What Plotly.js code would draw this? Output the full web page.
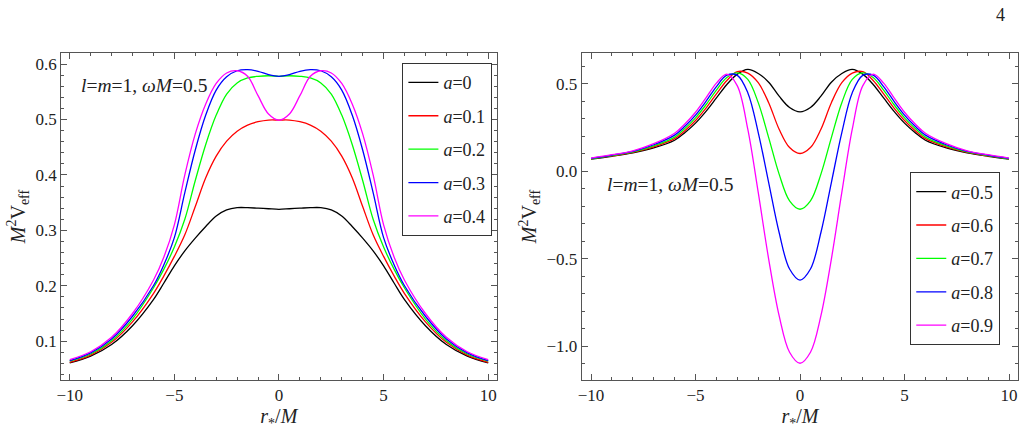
<!DOCTYPE html>
<html>
<head>
<meta charset="utf-8">
<script src="https://cdn.plot.ly/plotly-3.0.1.min.js"></script>
<style>html,body{margin:0;padding:0;background:#fff;}#plot{width:1026px;height:437px;}</style>
</head>
<body>
<div id="plot"></div>
<script>
// ---- data ----
const xLeft = [-10,-9,-8,-7,-6,-5.5,-5,-4.5,-4,-3.5,-3,-2.5,-2,-1.5,-1,-0.5,0,0.5,1,1.5,2,2.5,3,3.5,4,4.5,5,5.5,6,7,8,9,10];
const leftA0   = [0.061,0.073,0.094,0.128,0.175,0.205,0.236,0.263,0.286,0.307,0.326,0.337,0.341,0.341,0.340,0.339,0.338,0.339,0.340,0.341,0.341,0.337,0.326,0.307,0.286,0.263,0.236,0.205,0.175,0.128,0.094,0.073,0.061];
const leftA01  = [0.062,0.075,0.098,0.135,0.186,0.218,0.253,0.292,0.343,0.395,0.434,0.461,0.479,0.490,0.496,0.499,0.499,0.499,0.496,0.490,0.479,0.461,0.434,0.395,0.343,0.292,0.253,0.218,0.186,0.135,0.098,0.075,0.062];
const leftA02  = [0.064,0.077,0.101,0.140,0.196,0.230,0.270,0.320,0.390,0.455,0.508,0.546,0.566,0.575,0.578,0.579,0.578,0.579,0.578,0.575,0.566,0.546,0.508,0.455,0.390,0.320,0.270,0.230,0.196,0.140,0.101,0.077,0.064];
const leftA03  = [0.065,0.079,0.104,0.145,0.200,0.238,0.287,0.368,0.445,0.508,0.553,0.577,0.588,0.590,0.587,0.581,0.578,0.581,0.587,0.590,0.588,0.577,0.553,0.508,0.445,0.368,0.287,0.238,0.200,0.145,0.104,0.079,0.065];
const leftA04  = [0.067,0.081,0.107,0.150,0.210,0.252,0.310,0.400,0.474,0.528,0.565,0.584,0.588,0.578,0.543,0.510,0.499,0.510,0.543,0.578,0.588,0.584,0.565,0.528,0.474,0.400,0.310,0.252,0.210,0.150,0.107,0.081,0.067];
const leftNames = ['<i>a</i>=0','<i>a</i>=0.1','<i>a</i>=0.2','<i>a</i>=0.3','<i>a</i>=0.4'];

const xRight = [-10,-9,-8,-7,-6,-5.5,-5,-4.5,-4,-3.5,-3,-2.5,-2,-1.5,-1,-0.5,0,0.5,1,1.5,2,2.5,3,3.5,4,4.5,5,5.5,6,7,8,9,10];
const rightA05 = [0.070,0.086,0.105,0.134,0.178,0.222,0.276,0.343,0.420,0.497,0.556,0.583,0.560,0.510,0.430,0.365,0.340,0.365,0.430,0.510,0.560,0.583,0.556,0.497,0.420,0.343,0.276,0.222,0.178,0.134,0.105,0.086,0.070];
const rightA06 = [0.071,0.088,0.108,0.140,0.187,0.234,0.291,0.362,0.443,0.520,0.570,0.562,0.507,0.393,0.241,0.136,0.102,0.136,0.241,0.393,0.507,0.562,0.570,0.520,0.443,0.362,0.291,0.234,0.187,0.140,0.108,0.088,0.071];
const rightA07 = [0.072,0.090,0.111,0.146,0.196,0.246,0.306,0.381,0.465,0.537,0.563,0.526,0.393,0.193,-0.016,-0.169,-0.217,-0.169,-0.016,0.193,0.393,0.526,0.563,0.537,0.465,0.381,0.306,0.246,0.196,0.146,0.111,0.090,0.072];
const rightA08 = [0.074,0.093,0.114,0.152,0.207,0.259,0.322,0.400,0.485,0.550,0.549,0.450,0.222,-0.064,-0.350,-0.559,-0.622,-0.559,-0.350,-0.064,0.222,0.450,0.549,0.550,0.485,0.400,0.322,0.259,0.207,0.152,0.114,0.093,0.074];
const rightA09 = [0.076,0.095,0.117,0.158,0.218,0.272,0.338,0.420,0.505,0.556,0.489,0.241,-0.121,-0.502,-0.826,-1.035,-1.098,-1.035,-0.826,-0.502,-0.121,0.241,0.489,0.556,0.505,0.420,0.338,0.272,0.218,0.158,0.117,0.095,0.076];
const rightNames = ['<i>a</i>=0.5','<i>a</i>=0.6','<i>a</i>=0.7','<i>a</i>=0.8','<i>a</i>=0.9'];

const colors = ['#000000','#ff0000','#00ff00','#0000ff','#ff00ff'];
// ---- end data ----

const FONT = 'Liberation Serif, Times New Roman, serif';
const leftSeries = [leftA0,leftA01,leftA02,leftA03,leftA04];
const rightSeries = [rightA05,rightA06,rightA07,rightA08,rightA09];

const traces = [];
leftSeries.forEach((ys,i)=>traces.push({
  x:xLeft, y:ys, type:'scatter', mode:'lines', name:leftNames[i],
  line:{color:colors[i], width:1.3, shape:'spline', smoothing:1},
  xaxis:'x', yaxis:'y', legend:'legend', legendgroup:'L'+i
}));
rightSeries.forEach((ys,i)=>traces.push({
  x:xRight, y:ys, type:'scatter', mode:'lines', name:rightNames[i],
  line:{color:colors[i], width:1.3, shape:'spline', smoothing:1},
  xaxis:'x2', yaxis:'y2', legend:'legend2', legendgroup:'R'+i
}));

const frame = '#555';
function ax(extra){
  return Object.assign({
    showline:true, linecolor:frame, linewidth:1, mirror:'ticks',
    ticks:'inside', ticklen:6, tickcolor:frame, tickwidth:1,
    showgrid:false, zeroline:false,
    tickfont:{family:FONT, size:17, color:'#222'}
  }, extra);
}
const minorX = {dtick:1, tick0:0, ticks:'inside', ticklen:3, tickcolor:frame, tickwidth:1, showgrid:false};
const yDom = [0.1304, 0.8787];
const titleFont = {family:FONT,size:20,color:'#222'};
const legFont = {family:FONT,size:18,color:'#222'};
const layout = {
  width:1026, height:437,
  margin:{l:0,r:0,t:0,b:0},
  paper_bgcolor:'#fff', plot_bgcolor:'#fff',
  showlegend:true,
  font:{family:FONT, color:'#222'},
  xaxis: ax({domain:[0.0595,0.4840], range:[-10.415,10.40], tickvals:[-10,-5,0,5,10], minor:minorX,
    title:{text:'<i>r</i><sub>*</sub>/<i>M</i>', font:titleFont, standoff:4}, anchor:'y'}),
  yaxis: ax({domain:yDom, range:[0.030,0.620], tickvals:[0.1,0.2,0.3,0.4,0.5,0.6], tickformat:'.1f',
    minor:{dtick:0.02, tick0:0, ticks:'inside', ticklen:3, tickcolor:frame, tickwidth:1, showgrid:false},
    title:{text:'<i>M</i><sup>2</sup>V<sub>eff</sub>', font:titleFont, standoff:4}, anchor:'x'}),
  xaxis2: ax({domain:[0.5670,0.9925], range:[-10.445,10.445], tickvals:[-10,-5,0,5,10], minor:minorX,
    title:{text:'<i>r</i><sub>*</sub>/<i>M</i>', font:titleFont, standoff:4}, anchor:'y2'}),
  yaxis2: ax({domain:yDom, range:[-1.194,0.677], tickvals:[-1.0,-0.5,0.0,0.5], tickformat:'.1f',
    minor:{dtick:0.1, tick0:0, ticks:'inside', ticklen:3, tickcolor:frame, tickwidth:1, showgrid:false},
    title:{text:'<i>M</i><sup>2</sup>V<sub>eff</sub>', font:titleFont, standoff:4}, anchor:'x2'}),
  legend:{x:0.392, y:0.856, xanchor:'left', yanchor:'top', bgcolor:'#fff', bordercolor:'#333', borderwidth:1.2,
    font:legFont, tracegroupgap:7, traceorder:'grouped', itemwidth:30},
  legend2:{x:0.887, y:0.606, xanchor:'left', yanchor:'top', bgcolor:'#fff', bordercolor:'#333', borderwidth:1.2,
    font:legFont, tracegroupgap:7, traceorder:'grouped', itemwidth:30},
  annotations:[
    {xref:'paper', yref:'paper', x:0.077, y:0.805, xanchor:'left', yanchor:'middle', showarrow:false,
     text:'<i>l</i>=<i>m</i>=1, <i>ωM</i>=0.5', font:{family:FONT,size:19.5,color:'#222'}},
    {xref:'paper', yref:'paper', x:0.590, y:0.577, xanchor:'left', yanchor:'middle', showarrow:false,
     text:'<i>l</i>=<i>m</i>=1, <i>ωM</i>=0.5', font:{family:FONT,size:19.5,color:'#222'}},
    {xref:'paper', yref:'paper', x:0.975, y:0.965, xanchor:'center', yanchor:'middle', showarrow:false,
     text:'4', font:{family:FONT,size:18,color:'#222'}}
  ]
};
Plotly.newPlot('plot', traces, layout, {displayModeBar:false, staticPlot:true});
</script>
</body>
</html>
